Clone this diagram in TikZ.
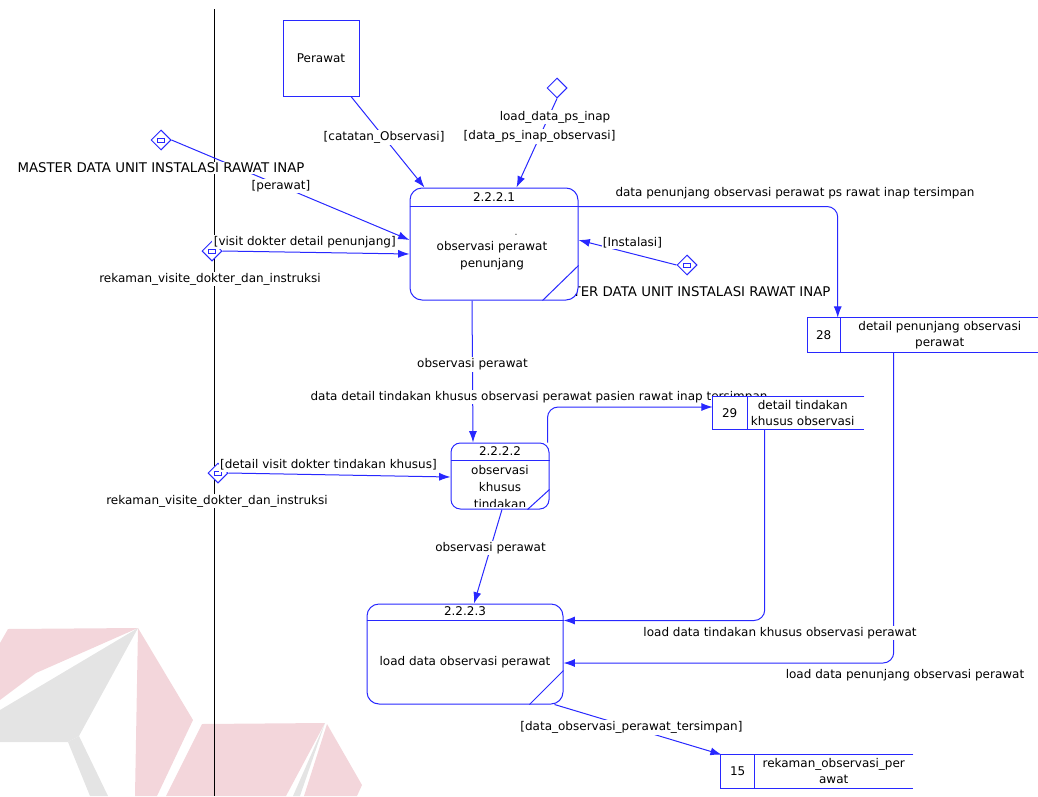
\documentclass[tikz,border=0pt]{standalone}
\usepackage{fontspec}
\setmainfont{DejaVu Sans}
\usetikzlibrary{arrows.meta,calc,shapes.geometric,positioning}
\definecolor{dfdblue}{RGB}{40,40,255}
\definecolor{wmpink}{RGB}{243,214,219}
\definecolor{wmgray}{RGB}{228,228,228}
\pgfdeclarelayer{bg}
\pgfdeclarelayer{fg}
\pgfsetlayers{bg,main,fg}

\begin{document}
\begin{tikzpicture}[x=0.75pt,y=-0.75pt,
    every node/.style={font=\fontsize{9}{12.75}\selectfont,align=center},
    flow/.style={draw=dfdblue,line width=0.75pt,-{Latex[length=8.5pt,width=6pt]}},
    dline/.style={draw=dfdblue,line width=0.75pt},
    proc/.style={draw=dfdblue,line width=0.75pt,fill=white,rounded corners=9pt},
    ent/.style={draw=dfdblue,line width=0.75pt,fill=white,minimum size=57pt},
    dstore/.style={diamond,draw=dfdblue,line width=0.75pt,fill=white,minimum size=15pt,inner sep=0pt},
    dlink/.style={dstore,path picture={\draw[dfdblue,line width=0.6pt] ([xshift=-2.6pt,yshift=-1.5pt]path picture bounding box.center) rectangle ++(5.2pt,3pt);}},
    lbl/.style={fill=white,inner sep=1pt},
    caplbl/.style={lbl,font=\fontsize{10}{12}\selectfont},
    store/.style={inner sep=0pt,fill=white}]
  \useasboundingbox (0,0) rectangle (1038,796);

  % watermark and boundary
  \begin{pgfonlayer}{bg}
    \fill[wmpink] (0,643) -- (8,629) -- (138,628) -- (36,673) -- (0,700) -- cycle;
    \fill[wmgray] (138,628) -- (0,710) -- (0,742) -- (68,742) -- (79,736) -- cycle;
    \fill[wmgray] (68,742) -- (79,736) -- (108,796) -- (90,796) -- cycle;
    \fill[wmpink] (138,628) -- (193,720) -- (157,796) -- (135,796) -- cycle;
    \fill[wmpink] (202,724) -- (325,723) -- (286,796) -- (166,796) -- cycle;
    \fill[wmgray] (325,723) -- (293,796) -- (300,796) -- cycle;
    \fill[wmpink] (327,724) -- (362,785) -- (357,796) -- (304,796) -- cycle;
    \draw[black,line width=0.6pt] (214,9) -- (214,796);
  \end{pgfonlayer}

  % processes and stores
  \begin{pgfonlayer}{fg}
    \node[proc,minimum width=126pt,minimum height=84pt] (p1) at (494,244) {};
    \draw[dline] ($(p1.north west)+(0,19)$) -- ($(p1.north east)+(0,19)$);
    \draw[dline] ($(p1.south east)+(0,-35)$) -- ($(p1.south east)+(-36,0)$);
    \node (p1id) at ($(p1.north)+(0,10)$) {2.2.2.1};
    \node (p1txt) at ($(p1.center)+(-2,12)$) {observasi perawat\\penunjang};
    \node[font=\tiny] (p1dash) at (516,235) {-};

    \node[proc,rounded corners=7pt,minimum width=73.5pt,minimum height=49.5pt] (p2) at (500,476) {};
    \draw[dline] ($(p2.north west)+(0,18)$) -- ($(p2.north east)+(0,18)$);
    \draw[dline] ($(p2.south east)+(0,-20)$) -- ($(p2.south east)+(-22,0)$);
    \node (p2id) at ($(p2.north)+(0,9)$) {2.2.2.2};
    \begin{scope}
      \clip ($(p2.south west)+(0,-3)$) rectangle (p2.north east);
      \node (p2txt) at ($(p2.center)+(0,11)$) {observasi\\khusus\\tindakan};
    \end{scope}

    \node[proc,minimum width=147pt,minimum height=75pt] (p3) at (465,654) {};
    \draw[dline] ($(p3.north west)+(0,17)$) -- ($(p3.north east)+(0,17)$);
    \draw[dline] ($(p3.south east)+(0,-34)$) -- ($(p3.south east)+(-34,0)$);
    \node (p3id) at ($(p3.north)+(0,8)$) {2.2.2.3};
    \node (p3txt) at ($(p3.center)+(0,8)$) {load data observasi perawat};

    \node[store,minimum width=172.5pt,minimum height=25.5pt] (s28) at (923,335) {};
    \draw[dline] (s28.north east) -- (s28.north west) -- (s28.south west) -- (s28.south east);
    \draw[dline] ($(s28.north west)+(33,0)$) -- ($(s28.south west)+(33,0)$);
    \node (s28no) at ($(s28.west)+(16,0)$) {28};
    \node[font=\fontsize{9}{12}\selectfont] (s28txt) at ($(s28.west)+(132,0)$) {detail penunjang observasi\\perawat};

    \node[store,minimum width=113.25pt,minimum height=24pt] (s29) at (788.5,413) {};
    \draw[dline] (s29.north east) -- (s29.north west) -- (s29.south west) -- (s29.south east);
    \draw[dline] ($(s29.north west)+(35,0)$) -- ($(s29.south west)+(35,0)$);
    \node (s29no) at ($(s29.west)+(17,0)$) {29};
    \node[font=\fontsize{9}{12}\selectfont] (s29txt) at ($(s29.west)+(90,0)$) {detail tindakan\\khusus observasi};

    \node[store,minimum width=144pt,minimum height=24.75pt] (s15) at (817,771.5) {};
    \draw[dline] (s15.north east) -- (s15.north west) -- (s15.south west) -- (s15.south east);
    \draw[dline] ($(s15.north west)+(34,0)$) -- ($(s15.south west)+(34,0)$);
    \node (s15no) at ($(s15.west)+(17,0)$) {15};
    \node[font=\fontsize{9}{12}\selectfont] (s15txt) at ($(s15.west)+(113,0)$) {rekaman\_observasi\_per\\awat};
  \end{pgfonlayer}

  % external entity and linked stores
  \node[ent] (perawat) at (321,58) {Perawat};
  \node[dlink] (d1) at (161,140) {};
  \node[dlink] (d2) at (212,251) {};
  \node[dlink] (d3) at (687,265) {};
  \node[dstore] (d4) at (557,88) {};
  \node[dlink] (d5) at (218,473) {};
  \node[caplbl] (d3lbl) at ($(d3)+(0,27)$) {MASTER DATA UNIT INSTALASI RAWAT INAP};

  % flows
  \draw[flow] ($(perawat.south)+(30,0)$) -- node[lbl,pos=0.45] {[catatan\_Observasi]} ($(p1.north west)+(15,0)$);
  \draw[flow] (d4.south) -- node[lbl,pos=0.43] {[data\_ps\_inap\_observasi]} ($(p1.north west)+(107,0)$);
  \draw[flow] (d1.east) -- node[lbl,pos=0.46] {[perawat]} ($(p1.west)+(0,-4)$);
  \draw[flow] (d2.east) -- node[lbl,pos=0.44,above=2pt] {[visit dokter detail penunjang]} ($(p1.west)+(0,10)$);
  \draw[flow] (d3.west) -- node[lbl,pos=0.45,above=3pt] {[Instalasi]} ($(p1.east)+(0,-4)$);
  \draw[flow,rounded corners=8pt] ($(p1.north east)+(0,19)$) -| ($(s28.north west)+(30,0)$);
  \node[lbl] (l28) at (795,193) {data penunjang observasi perawat ps rawat inap tersimpan};
  \draw[flow] ($(p1.south)+(-22,0)$) -- node[lbl,pos=0.45] {observasi perawat} ($(p2.north)+(-27,0)$);
  \node[lbl] (l29) at (539,397) {data detail tindakan khusus observasi perawat pasien rawat inap tersimpan};
  \draw[flow,rounded corners=8pt] ($(p2.north east)+(-2,0)$) |- ($(s29.west)+(0,-6)$);
  \draw[flow] (d5.east) -- node[lbl,pos=0.45,above=2pt] {[detail visit dokter tindakan khusus]} ($(p2.west)+(0,1)$);
  \draw[flow] ($(p2.south)+(2,0)$) -- node[lbl,pos=0.41] {observasi perawat} ($(p3.north)+(9,0)$);
  \draw[flow,rounded corners=8pt] ($(s28.south west)+(86,0)$) |- ($(p3.east)+(0,9)$);
  \draw[flow,rounded corners=8pt] ($(s29.south west)+(52,0)$) |- ($(p3.north east)+(0,17)$);
  \node[lbl] (lt) at (780,633) {load data tindakan khusus observasi perawat};
  \node[lbl] (lp) at (905,675) {load data penunjang observasi perawat};
  \draw[flow] ($(p3.south east)+(-9,0)$) -- node[lbl,pos=0.46] {[data\_observasi\_perawat\_tersimpan]} ($(s15.north west)+(1,0)$);

  % store names
  \node[caplbl] (d1lbl) at ($(d1)+(0,28)$) {MASTER DATA UNIT INSTALASI RAWAT INAP};
  \node[lbl] (d2lbl) at ($(d2)+(-2,28)$) {rekaman\_visite\_dokter\_dan\_instruksi};
  \node[lbl] (d4lbl) at ($(d4)+(-2,29)$) {load\_data\_ps\_inap};
  \node[lbl] (d5lbl) at ($(d5)+(-1,28)$) {rekaman\_visite\_dokter\_dan\_instruksi};
\end{tikzpicture}
\end{document}
